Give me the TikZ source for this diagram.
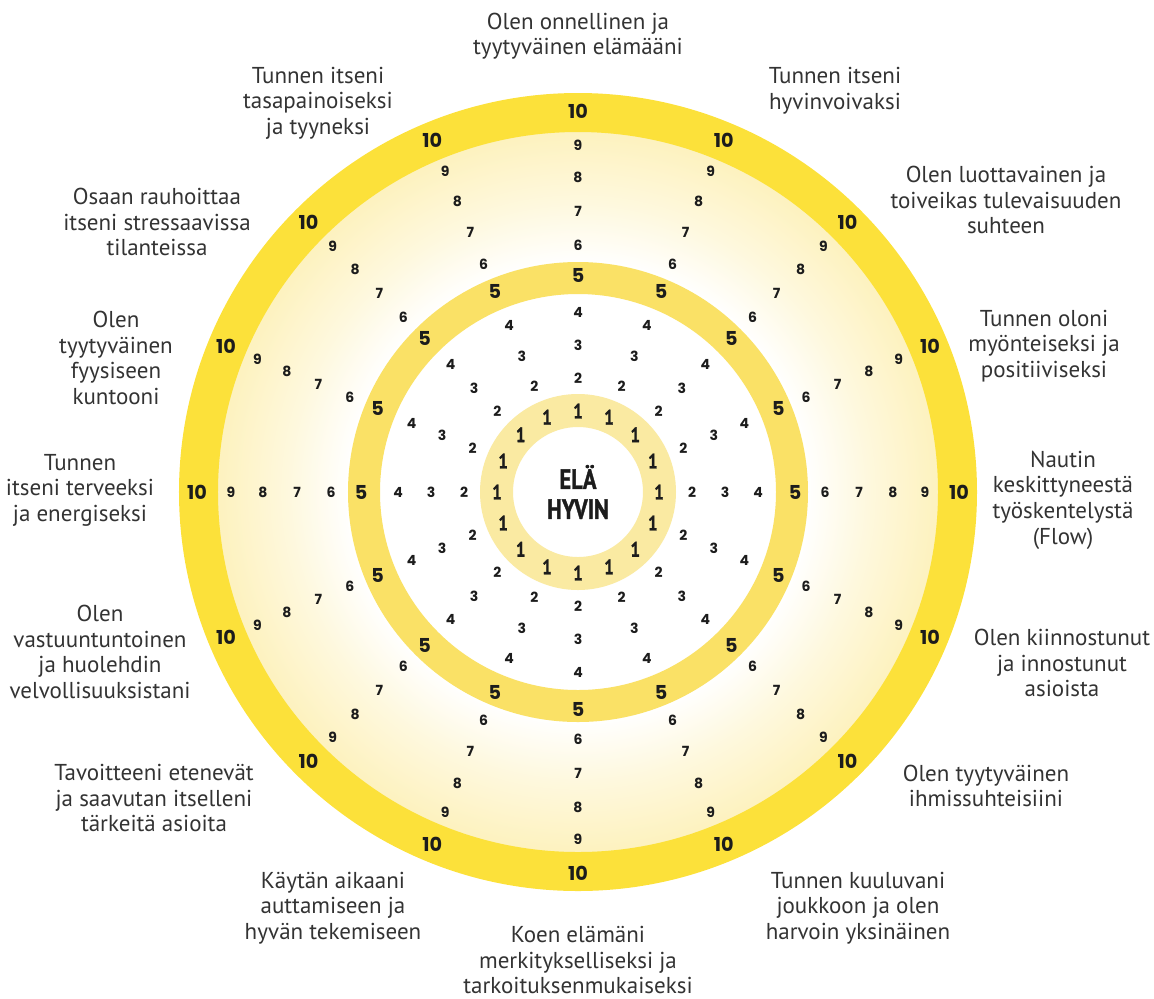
\documentclass[tikz,border=0pt]{standalone}
\usepackage{fontspec}
\setmainfont{PT Sans}
\newfontfamily\numfont{Poppins}
\newfontfamily\condfont[FakeStretch=0.8, FakeBold=1.2]{PT Sans Bold}
\usepackage{xcolor}
\usetikzlibrary{positioning}

\definecolor{ringouter}{HTML}{FCE13A}
\definecolor{ringmid}{HTML}{FAE166}
\definecolor{ringinner}{HTML}{FAEAA2}
\definecolor{glow}{HTML}{FDF0B6}
\definecolor{labeltext}{HTML}{333333}
\definecolor{numtext}{HTML}{1C1C1C}

\pgfdeclareradialshading{wheelglow}{\pgfpoint{0bp}{0bp}}{color(0bp)=(white); color(15bp)=(white); color(19bp)=(glow!45!white); color(25bp)=(glow); color(50bp)=(glow)}

\begin{document}
\begin{tikzpicture}[x=0.5pt, y=0.5pt,
    wish/.style={align=center, text=labeltext, font=\fontsize{11.5}{12.8}\selectfont},
    bignum/.style={text=numtext, font=\numfont\bfseries\fontsize{9.6}{10}\selectfont},
    smallnum/.style={text=numtext, font=\numfont\bfseries\fontsize{7}{7}\selectfont},
    onenum/.style={text=numtext, font=\condfont\fontsize{10.5}{11}\selectfont}]
    \useasboundingbox (-578,-506) rectangle (576,492);

    % Rings
    \shade[shading=wheelglow] (0,0) circle (380);
    \fill[ringouter, even odd rule] (0,0) circle (399) (0,0) circle (360);
    \fill[ringmid, even odd rule] (0,0) circle (230) (0,0) circle (198);
    \fill[ringinner, even odd rule] (0,0) circle (98) (0,0) circle (65);

    \node[font=\condfont\fontsize{14}{15}\selectfont, text=numtext, align=center] (centre) at (0,0) {ELÄ\\HYVIN};

    % Scale numbers on the 16 spokes
    \foreach \k in {0,...,15} {
        \pgfmathsetmacro{\ang}{90-22.5*\k}
        \node[onenum] (n-\k-1) at (\ang:81) {1};
        \foreach \v/\r in {2/114, 3/147, 4/180, 6/247, 7/281, 8/315, 9/347}
            \node[smallnum] (n-\k-\v) at (\ang:\r) {\v};
        \node[bignum] (n-\k-5) at (\ang:217) {5};
        \node[bignum] (n-\k-10) at (\ang:381) {10};
    }

    % Statements round the wheel
    \node[wish] (lbl1) at (0,456) {Olen onnellinen ja\\tyytyväinen elämääni};
    \node[wish] (lbl2) at (257,401) {Tunnen itseni\\hyvinvoivaksi};
    \node[wish] (lbl3) at (428,292) {Olen luottavainen ja\\toiveikas tulevaisuuden\\suhteen};
    \node[wish] (lbl4) at (466,146) {Tunnen oloni\\myönteiseksi ja\\positiiviseksi};
    \node[wish] (lbl5) at (485,-8) {Nautin\\keskittyneestä\\työskentelystä\\(Flow)};
    \node[wish] (lbl6) at (484,-171) {Olen kiinnostunut\\ja innostunut\\asioista};
    \node[wish] (lbl7) at (408,-294) {Olen tyytyväinen\\ihmissuhteisiini};
    \node[wish] (lbl8) at (280,-416) {Tunnen kuuluvani\\joukkoon ja olen\\harvoin yksinäinen};
    \node[wish] (lbl9) at (0,-468) {Koen elämäni\\merkitykselliseksi ja\\tarkoituksenmukaiseksi};
    \node[wish] (lbl10) at (-245,-416) {Käytän aikaani\\auttamiseen ja\\hyvän tekemiseen};
    \node[wish] (lbl11) at (-424,-306) {Tavoitteeni etenevät\\ja saavutan itselleni\\tärkeitä asioita};
    \node[wish] (lbl12) at (-478,-160) {Olen\\vastuuntuntoinen\\ja huolehdin\\velvollisuuksistani};
    \node[wish] (lbl13) at (-498,2) {Tunnen\\itseni terveeksi\\ja energiseksi};
    \node[wish] (lbl14) at (-462,134) {Olen\\tyytyväinen\\fyysiseen\\kuntooni};
    \node[wish] (lbl15) at (-421,270) {Osaan rauhoittaa\\itseni stressaavissa\\tilanteissa};
    \node[wish] (lbl16) at (-260,389) {Tunnen itseni\\tasapainoiseksi\\ja tyyneksi};
\end{tikzpicture}
\end{document}
